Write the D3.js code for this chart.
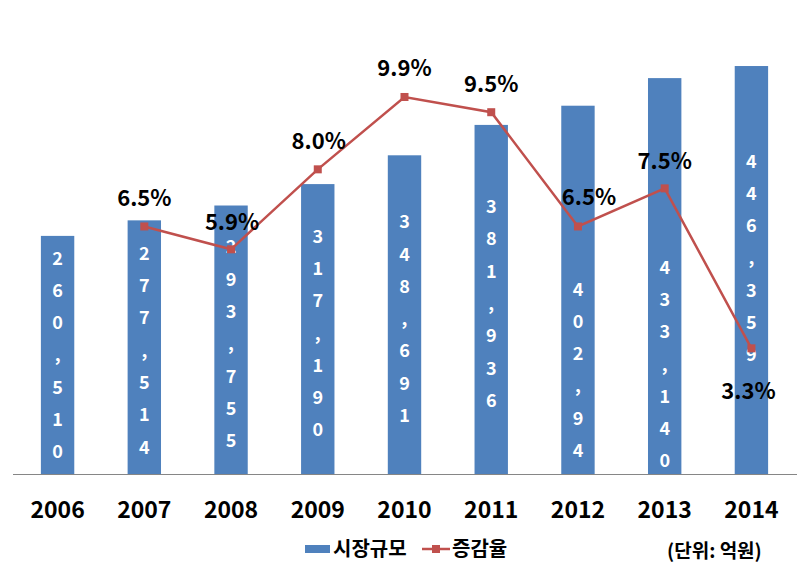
<!DOCTYPE html>
<html>
<head>
  <meta charset="UTF-8">
  <style>
    body { margin: 0; background: #fff; }
    text { font-family: "Noto Sans CJK KR", "Noto Sans", sans-serif; font-weight: bold; }
  </style>
</head>
<body>
<svg></svg>
<script src="https://d3js.org/d3.v7.min.js"></script>

<script>

let width = 809, height = 575;

// data
const years = ["2006", "2007", "2008", "2009", "2010", "2011", "2012", "2013", "2014"];
const marketSize = [260510, 277514, 293755, 317190, 348691, 381936, 402940, 433140, 446359];
const sizeLabels = ["260,510", "277,514", "293,755", "317,190", "348,691", "381,936", "402,94", "433,140", "446,359"];
const growthYears = ["2007", "2008", "2009", "2010", "2011", "2012", "2013", "2014"];
const growthRate = [6.5, 5.9, 8.0, 9.9, 9.5, 6.5, 7.5, 3.3];

// label nudges (px) so they sit like the original
const sizeLabelShift = [0, 3, 4, 4, 4, 4, 80, 88, -12];
const rateLabelDx = [0, 1, 1, 0, 0, 11, 0, -3];
const rateLabelDy = [-28, -27, -28, -29, -28, -29, -27, 43];

let svg = d3.select("svg")
    .attr("width", width)
    .attr("height", height)
    .attr("viewBox", "0 0 " + width + " " + height);

let x = d3.scaleBand()
    .domain(years)
    .range([14, 795])
    .paddingInner(0.615)
    .paddingOuter(0.31);

let y = d3.scaleLinear().domain([0, 500000]).range([474, 17]);
let y2 = d3.scaleLinear().domain([0, 12]).range([474, 17]);

const barColor = "#4f81bd", lineColor = "#c0504d";
let cx = d => x(d) + x.bandwidth() / 2;

// bars
svg.append("g")
    .selectAll("rect")
    .data(marketSize)
    .enter()
    .append("rect")
    .attr("x", (d, i) => x(years[i]))
    .attr("y", d => y(d))
    .attr("width", x.bandwidth())
    .attr("height", d => y(0) - y(d))
    .style("fill", barColor);

// baseline
svg.append("line")
    .attr("x1", 13).attr("x2", 797)
    .attr("y1", y(0) + 0.5).attr("y2", y(0) + 0.5)
    .style("stroke", "#868686")
    .style("stroke-width", 1);

// vertical value labels inside bars
const step = 32.3;
sizeLabels.forEach(function(lbl, i) {
    let chars = lbl.split("");
    let mid = (y(marketSize[i]) + y(0)) / 2 + sizeLabelShift[i];
    let top = mid - (chars.length - 1) * step / 2;
    svg.append("g").selectAll("text")
        .data(chars)
        .enter()
        .append("text")
        .attr("x", cx(years[i]))
        .attr("y", (c, j) => top + j * step)
        .attr("dy", "0.36em")
        .attr("text-anchor", "middle")
        .style("fill", "white")
        .style("font-size", "18px")
        .text(c => c);
});

// growth line
let line = d3.line()
    .x((d, i) => cx(growthYears[i]))
    .y(d => y2(d));

svg.append("path")
    .datum(growthRate)
    .attr("d", line)
    .style("fill", "none")
    .style("stroke", lineColor)
    .style("stroke-width", 2.5);

svg.append("g")
    .selectAll("rect")
    .data(growthRate)
    .enter()
    .append("rect")
    .attr("x", (d, i) => cx(growthYears[i]) - 4)
    .attr("y", d => y2(d) - 4)
    .attr("width", 8)
    .attr("height", 8)
    .style("fill", lineColor);

svg.append("g")
    .selectAll("text")
    .data(growthRate)
    .enter()
    .append("text")
    .attr("x", (d, i) => cx(growthYears[i]) + rateLabelDx[i])
    .attr("y", (d, i) => y2(d) + rateLabelDy[i])
    .attr("dy", "0.36em")
    .attr("text-anchor", "middle")
    .style("font-size", "22px")
    .style("fill", "black")
    .text(d => d.toFixed(1) + "%");

// year labels
svg.append("g")
    .selectAll("text")
    .data(years)
    .enter()
    .append("text")
    .attr("x", d => cx(d))
    .attr("y", 510)
    .attr("dy", "0.36em")
    .attr("text-anchor", "middle")
    .style("font-size", "23px")
    .style("fill", "black")
    .text(d => d);

// legend
let lg = svg.append("g").attr("transform", "translate(0,549)");
lg.append("rect")
    .attr("x", 305).attr("y", -4)
    .attr("width", 25).attr("height", 8)
    .style("fill", barColor);
lg.append("text")
    .attr("x", 333).attr("y", 0).attr("dy", "0.36em")
    .style("font-size", "20px")
    .text("시장규모");
lg.append("line")
    .attr("x1", 422).attr("x2", 450)
    .attr("y1", 0).attr("y2", 0)
    .style("stroke", lineColor)
    .style("stroke-width", 2.5);
lg.append("rect")
    .attr("x", 432).attr("y", -4)
    .attr("width", 8).attr("height", 8)
    .style("fill", lineColor);
lg.append("text")
    .attr("x", 452).attr("y", 0).attr("dy", "0.36em")
    .style("font-size", "20px")
    .text("증감율");
lg.append("text")
    .attr("x", 667).attr("y", 2).attr("dy", "0.36em")
    .style("font-size", "19px")
    .text("(단위: 억원)");

</script>

</body>
</html>
